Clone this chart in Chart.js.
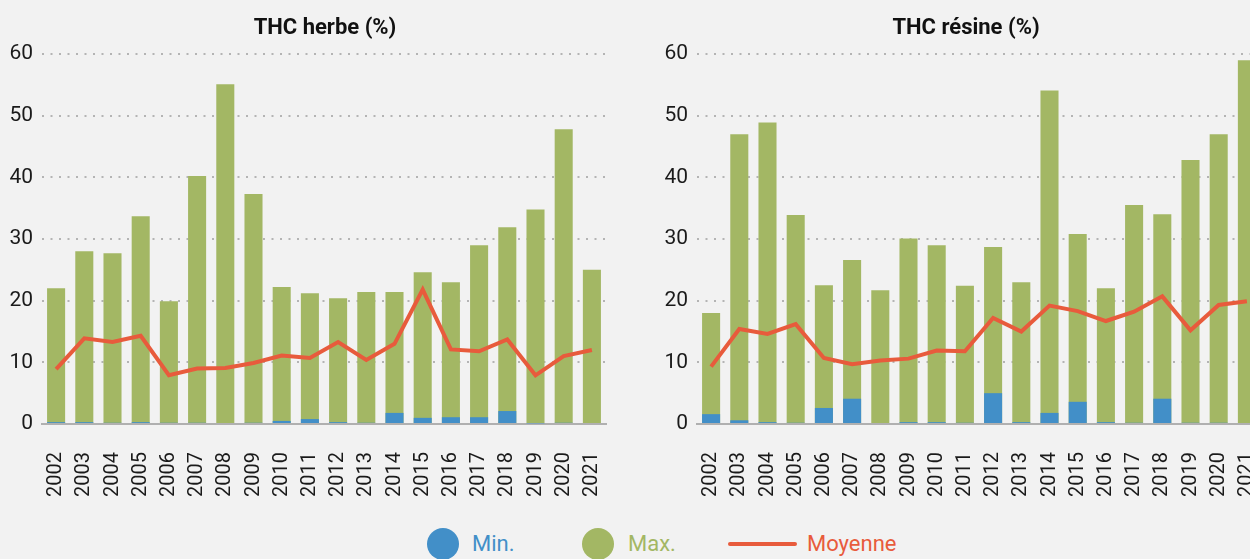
<!DOCTYPE html>
<html>
<head>
<meta charset="utf-8">
<script src="https://cdn.jsdelivr.net/npm/chart.js@4"></script>
<style>
  body { margin: 0; background: #f2f2f2; overflow: hidden; width: 1250px; height: 559px; position: relative; font-family: Roboto, sans-serif; }
  .box { position: absolute; top: 0; width: 620px; height: 500px; }
  .ttl { position: absolute; top: 13px; width: 300px; margin-left: -150px; text-align: center;
         font-size: 22px; line-height: 28px; font-weight: bold; color: #111; }
  .leg { position: absolute; top: 528px; height: 32px; line-height: 32px; font-size: 22px; }
  .dot { position: absolute; width: 32px; height: 32px; border-radius: 50%; top: 528px; }
  .bar { position: absolute; height: 4px; border-radius: 2px; top: 542px; }
</style>
</head>
<body>
<div class="box" style="left:0"><canvas id="herbe" width="620" height="500"></canvas></div>
<div class="box" style="left:655px"><canvas id="resine" width="620" height="500"></canvas></div>
<div class="ttl" style="left:325px">THC herbe (%)</div>
<div class="ttl" style="left:966px">THC résine (%)</div>

<div class="dot" style="left:427px;background:#428fc8"></div>
<div class="leg" style="left:472px;color:#428fc8">Min.</div>
<div class="dot" style="left:582px;background:#a3b764"></div>
<div class="leg" style="left:628px;color:#a3b764">Max.</div>
<div class="bar" style="left:728px;width:69px;background:#e85b3c"></div>
<div class="leg" style="left:807px;color:#e85b3c">Moyenne</div>

<script>
// years shared by both panels
const years = ['2002','2003','2004','2005','2006','2007','2008','2009','2010','2011',
               '2012','2013','2014','2015','2016','2017','2018','2019','2020','2021'];

// THC herbe (%)
const herbeMin  = [0.3, 0.3, 0.2, 0.3, 0.2, 0.2, 0.0, 0.2, 0.5, 0.8, 0.3, 0.2, 1.8, 1.0, 1.1, 1.1, 2.1, 0.1, 0.2, 0.0];
const herbeMax  = [22.0, 28.0, 27.7, 33.7, 19.9, 40.2, 55.1, 37.3, 22.2, 21.2, 20.4, 21.4, 21.4, 24.6, 23.0, 29.0, 31.9, 34.8, 47.8, 25.0];
const herbeMoy  = [8.9, 13.9, 13.3, 14.3, 7.9, 9.0, 9.1, 9.9, 11.1, 10.7, 13.3, 10.4, 13.0, 21.8, 12.1, 11.8, 13.7, 7.9, 11.0, 12.0];

// THC résine (%)
const resineMin = [1.6, 0.6, 0.3, 0.2, 2.6, 4.1, 0.0, 0.3, 0.3, 0.2, 5.0, 0.3, 1.8, 3.6, 0.3, 0.2, 4.1, 0.2, 0.2, 0.0];
const resineMax = [18.0, 47.0, 48.9, 33.9, 22.5, 26.6, 21.7, 30.1, 29.0, 22.4, 28.7, 23.0, 54.1, 30.8, 22.0, 35.5, 34.0, 42.8, 47.0, 59.0];
const resineMoy = [9.3, 15.4, 14.6, 16.2, 10.7, 9.7, 10.3, 10.6, 11.9, 11.8, 17.2, 15.0, 19.2, 18.3, 16.7, 18.2, 20.7, 15.2, 19.3, 19.9];

const yTicks = [0, 10, 20, 30, 40, 50, 60];

const BLUE = '#428fc8', GREEN = '#a3b764', RED = '#e85b3c';

function drawPanel(id, mins, maxs, moys) {
  const ctx = document.getElementById(id).getContext('2d');
  return new Chart(ctx, {
    data: {
      labels: years,
      datasets: [
        { type: 'line', label: 'Moyenne', data: moys, borderColor: RED, borderWidth: 4,
          pointRadius: 0, tension: 0, order: 0 },
        { type: 'bar', label: 'Min.', data: mins, backgroundColor: BLUE, order: 1,
          barPercentage: 0.64, categoryPercentage: 1 },
        { type: 'bar', label: 'Max.', data: maxs, backgroundColor: GREEN, order: 2,
          barPercentage: 0.64, categoryPercentage: 1 }
      ]
    },
    options: {
      responsive: false,
      animation: false,
      layout: { padding: { left: 0, right: 14, top: 54, bottom: 0 } },
      scales: {
        x: {
          stacked: true,
          grid: { display: false },
          border: { display: true, color: '#b0b0b0', width: 2 },
          ticks: { minRotation: 90, maxRotation: 90, padding: 20, color: '#1a1a1a',
                   font: { family: 'Roboto', size: 20 } },
          afterFit: s => { s.height = 76; s.paddingRight = 0; s.paddingLeft = 0; }
        },
        y: {
          min: 0, max: 60,
          afterBuildTicks: s => { s.ticks = yTicks.map(v => ({ value: v })); },
          grid: {
            color: c => c.tick && c.tick.value === 0 ? 'rgba(0,0,0,0)' : '#b4b4b4',
            lineWidth: 2, drawTicks: false
          },
          border: { display: false, dash: [2, 6.5] },
          ticks: { padding: 9, color: '#1a1a1a', font: { family: 'Roboto', size: 21 } },
          afterFit: s => { s.width = 42; }
        }
      },
      plugins: {
        legend: { display: false },
        tooltip: { enabled: false },
        title: { display: false }
      }
    }
  });
}

drawPanel('herbe', herbeMin, herbeMax, herbeMoy);
drawPanel('resine', resineMin, resineMax, resineMoy);
</script>
</body>
</html>
